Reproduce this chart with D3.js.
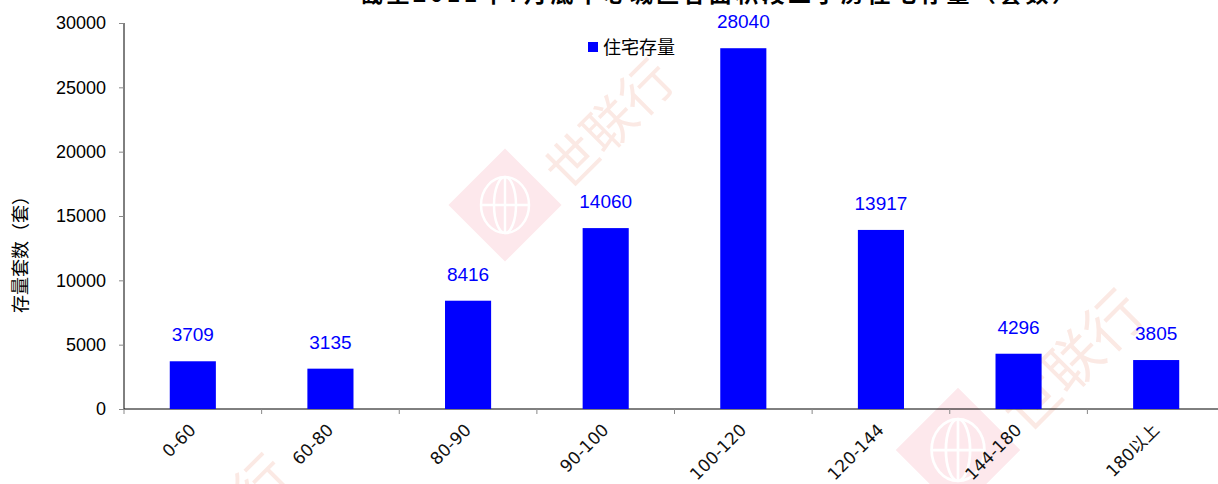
<!DOCTYPE html>
<html>
<head>
<meta charset="utf-8">
<script src="https://cdn.jsdelivr.net/npm/d3@7"></script>
<style>
body { margin: 0; background: #fff; }
svg { display: block; }
</style>
</head>
<body>
<svg id="chart" width="1218" height="484"></svg>
<script>
// data
var categories = ["0-60", "60-80", "80-90", "90-100", "100-120", "120-144", "144-180", "180以上"];
var stockValues = [3709, 3135, 8416, 14060, 28040, 13917, 4296, 3805];
var yTicks = [0, 5000, 10000, 15000, 20000, 25000, 30000];
var seriesName = "住宅存量";
var yTitle = "存量套数（套）";
var chartTitle = "截至2011年7月底中心城区各面积段二手房住宅存量（套数）";

var svg = d3.select("#chart");
var plotLeft = 124, plotRight = 1225, plotTop = 23, plotBottom = 409;

// watermark logos, drawn first so they sit behind everything
var wm = svg.append("g").attr("class", "watermark");
[[505, 205, 1], [958, 450, 1.1], [120, 600, 1]].forEach(function(p){
	var g = wm.append("g").attr("transform", "translate(" + p[0] + "," + p[1] + ") scale(" + p[2] + ")");
	g.append("rect")
		.attr("x", -40).attr("y", -40)
		.attr("width", 80).attr("height", 80)
		.attr("fill", "#fde8ec")
		.attr("transform", "rotate(45)");
	var globe = g.append("g")
		.attr("fill", "none").attr("stroke", "#fff").attr("stroke-width", 2.5);
	globe.append("ellipse").attr("rx", 24).attr("ry", 28);
	globe.append("ellipse").attr("rx", 11).attr("ry", 28);
	globe.append("line").attr("x1", 0).attr("x2", 0).attr("y1", -28).attr("y2", 28);
	globe.append("line").attr("x1", -24).attr("x2", 24).attr("y1", 0).attr("y2", 0);
	g.append("text")
		.attr("transform", "translate(105,-80) rotate(-45)")
		.attr("text-anchor", "middle")
		.attr("dy", "0.35em")
		.attr("font-family", "Noto Sans CJK SC")
		.attr("font-size", 52)
		.attr("fill", "#fbe9e4")
		.text("世联行");
});

var x = d3.scaleBand()
	.domain(categories)
	.range([plotLeft, plotRight])
	.paddingInner(0.665)
	.paddingOuter(0.3325);

var y = d3.scaleLinear()
	.domain([0, 30000])
	.range([plotBottom, plotTop]);

// title, mostly cut off at the top edge
svg.append("text")
	.attr("x", 360).attr("y", 2)
	.attr("textLength", 715)
	.attr("font-family", "Noto Sans CJK SC")
	.attr("font-weight", "bold")
	.attr("font-size", 23)
	.attr("fill", "#000")
	.text(chartTitle);

// y axis
var yAxis = svg.append("g")
	.attr("transform", "translate(" + plotLeft + ",0)")
	.call(d3.axisLeft(y).tickValues(yTicks).tickSize(5).tickPadding(13).tickFormat(d3.format("d")));
yAxis.select(".domain").attr("stroke", "#000").attr("d", "M0," + plotTop + "V" + plotBottom);
yAxis.selectAll(".tick line").attr("stroke", "#888");
yAxis.selectAll("text")
	.attr("font-family", "Liberation Sans, Arial")
	.attr("font-size", 18)
	.attr("fill", "#000");

// x axis
var xAxis = svg.append("g")
	.attr("transform", "translate(0," + plotBottom + ")")
	.call(d3.axisBottom(x).tickSize(0).tickPadding(0));
xAxis.select(".domain").attr("stroke", "#000").attr("d", "M" + plotLeft + ",0H" + plotRight);
xAxis.selectAll(".tick text").remove();
// boundary ticks between categories
var boundaries = categories.map(function(c){ return x(c) - x.step() * x.paddingOuter(); });
boundaries.push(plotRight);
xAxis.selectAll(".bound")
	.data(boundaries)
	.enter().append("line")
	.attr("x1", function(d){ return d; })
	.attr("x2", function(d){ return d; })
	.attr("y1", 0).attr("y2", 5)
	.attr("stroke", "#888");

// rotated category labels
svg.append("g").selectAll("text")
	.data(categories)
	.enter().append("text")
	.attr("transform", function(d){
		var cx = x(d) + x.bandwidth() / 2 + 4;
		return "translate(" + cx + "," + (plotBottom + 22) + ") rotate(-45)";
	})
	.attr("text-anchor", "end")
	.attr("font-family", "DejaVu Sans, Noto Sans CJK SC")
	.attr("font-size", 17)
	.attr("fill", "#111")
	.text(function(d){ return d; });

// bars
svg.append("g").selectAll("rect")
	.data(stockValues)
	.enter().append("rect")
	.attr("x", function(d, i){ return x(categories[i]); })
	.attr("y", function(d){ return y(d); })
	.attr("width", x.bandwidth())
	.attr("height", function(d){ return plotBottom - y(d); })
	.attr("fill", "#0000ff");

// value labels
svg.append("g").selectAll("text")
	.data(stockValues)
	.enter().append("text")
	.attr("x", function(d, i){ return x(categories[i]) + x.bandwidth() / 2; })
	.attr("y", function(d){ return y(d) - 20; })
	.attr("text-anchor", "middle")
	.attr("font-family", "Liberation Sans, Arial")
	.attr("font-size", 19)
	.attr("fill", "#0000ff")
	.text(function(d){ return d; });

// y axis title
svg.append("text")
	.attr("transform", "translate(27,250) rotate(-90)")
	.attr("text-anchor", "middle")
	.attr("font-family", "Noto Sans CJK SC")
	.attr("font-size", 18)
	.attr("fill", "#000")
	.text(yTitle);

// legend
var legend = svg.append("g").attr("transform", "translate(588,42)");
legend.append("rect").attr("width", 10).attr("height", 10).attr("fill", "#0000ff");
legend.append("text")
	.attr("x", 15).attr("y", 12)
	.attr("font-family", "Noto Sans CJK SC")
	.attr("font-size", 18)
	.attr("fill", "#000")
	.text(seriesName);
</script>
</body>
</html>
